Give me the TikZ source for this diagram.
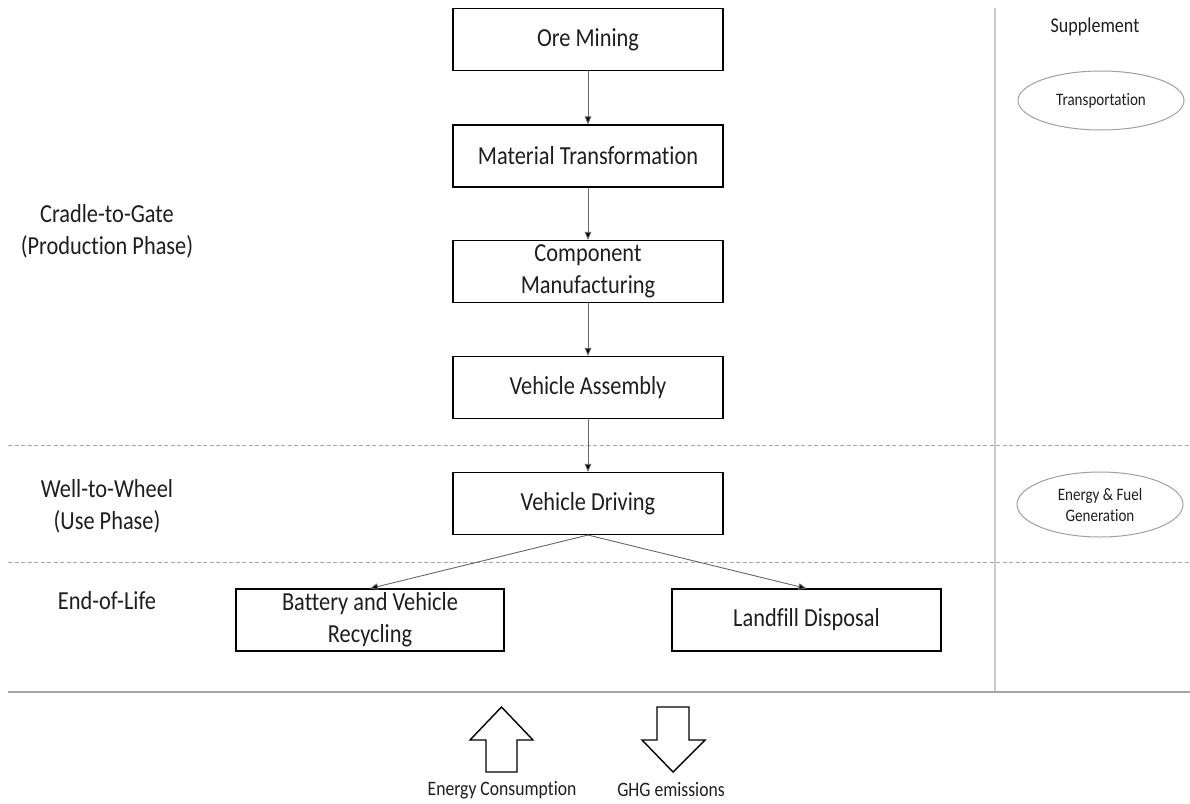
\documentclass[tikz,border=0pt]{standalone}
\usepackage{fontspec}
\setmainfont{Carlito}[FakeStretch=0.86, Ligatures={NoCommon}]
\usetikzlibrary{arrows.meta,shapes.geometric}
\definecolor{txt}{HTML}{1E1E1E}
\definecolor{sep}{HTML}{A6A6A6}
\definecolor{vsep}{HTML}{CCCCCC}
\definecolor{ell}{HTML}{A0A0A0}
\begin{document}
\begin{tikzpicture}[x=1pt,y=-1pt,
  stagebox/.style={draw=black, line width=1.1pt, minimum width=270pt, minimum height=62pt,
     inner sep=0pt, align=center, text=txt, font=\fontsize{26}{32}\selectfont},
  flow/.style={draw=black!60, line width=0.9pt, -{Triangle[length=8pt,width=6.5pt,fill=black]}},
  phase/.style={align=center, text=txt, font=\fontsize{26}{32}\selectfont},
  supp/.style={ellipse, draw=ell, line width=1pt, inner sep=0pt, align=center, text=txt,
     font=\fontsize{17.5}{21}\selectfont},
  dashsep/.style={draw=sep, line width=1pt, dash pattern=on 4pt off 2.5pt},
  blockarrow/.style={draw=black, line width=1.4pt, fill=white, line join=miter},
  legend/.style={text=txt, font=\fontsize{20.5}{24}\selectfont}
]
\useasboundingbox (0,0) rectangle (1190,803);

% separators
\draw[dashsep] (8,445.5) -- (1190,445.5);
\draw[dashsep] (8,562) -- (1190,562);
\draw[draw=vsep, line width=1.2pt] (995,8) -- (995,692);
\draw[draw=sep, line width=1.3pt] (8,692) -- (1190,692);

% phase labels
\node[phase] (p1) at (107,231) {Cradle-to-Gate\\(Production Phase)};
\node[phase] (p2) at (107,506) {Well-to-Wheel\\(Use Phase)};
\node[phase] (p3) at (107,601) {End-of-Life};

% stages
\node[stagebox] (ore) at (588,39.5) {Ore Mining};
\node[stagebox] (mat) at (588,156) {Material Transformation};
\node[stagebox] (comp) at (588,271.5) {Component\\Manufacturing};
\node[stagebox] (asm) at (588,387.5) {Vehicle Assembly};
\node[stagebox] (drive) at (588,503.5) {Vehicle Driving};
\node[stagebox, minimum width=268pt] (recyc) at (370,620) {Battery and Vehicle\\Recycling};
\node[stagebox, minimum width=269pt] (land) at (806.5,620) {Landfill Disposal};

\draw[flow] (ore) -- (mat);
\draw[flow] (mat) -- (comp);
\draw[flow] (comp) -- (asm);
\draw[flow] (asm) -- (drive);
\draw[flow] (drive.south) -- (recyc.north);
\draw[flow] (drive.south) -- (land.north);

% supplement
\node[text=txt, font=\fontsize{21}{25}\selectfont] (suptitle) at (1095,27) {Supplement};
\node[supp, minimum width=166pt, minimum height=59pt] (trans) at (1101,100.5) {Transportation};
\node[supp, minimum width=166pt, minimum height=65pt] (energy) at (1100,504.5) {Energy \& Fuel\\Generation};

% legend block arrows
\draw[blockarrow] (501.5,707) -- (533,740) -- (517,740) -- (517,772) -- (486,772) -- (486,740) -- (470,740) -- cycle;
\draw[blockarrow] (657,707) -- (689,707) -- (689,740) -- (705,740) -- (673,772) -- (642,740) -- (657,740) -- cycle;
\node[legend] (econs) at (502,790) {Energy Consumption};
\node[legend] (ghg) at (671,790) {GHG emissions};
\end{tikzpicture}
\end{document}
